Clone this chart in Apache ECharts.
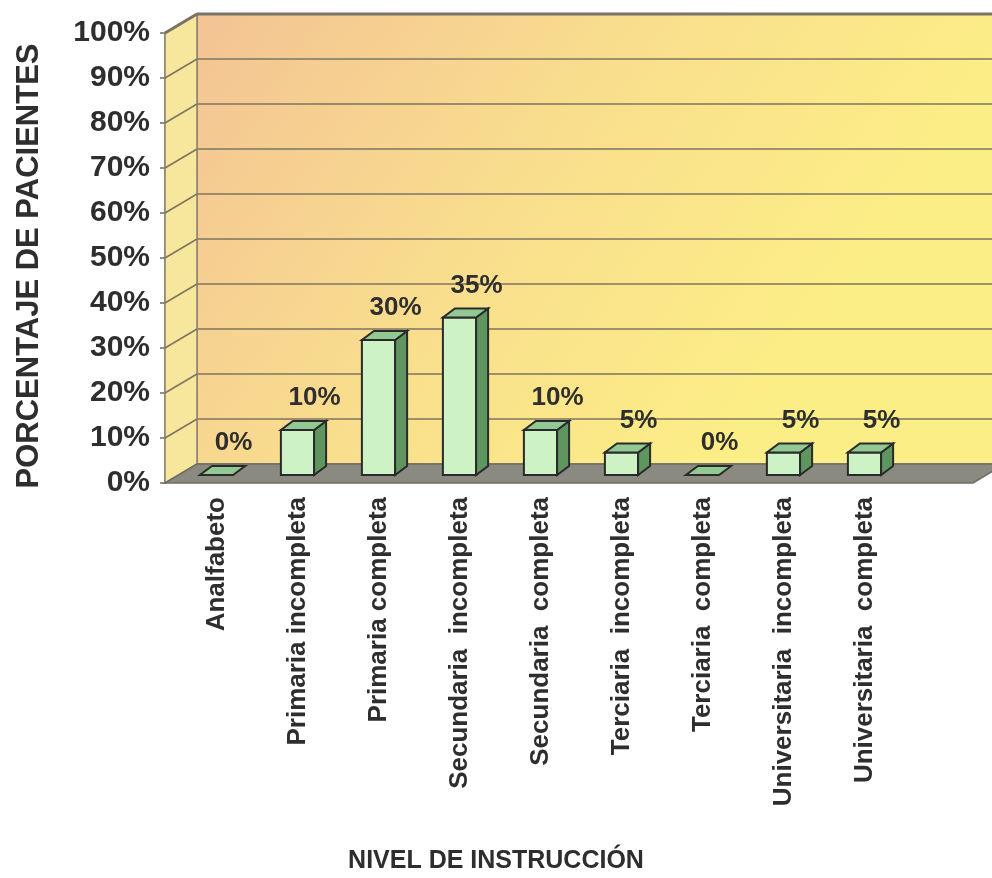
<!DOCTYPE html>
<html>
<head>
<meta charset="utf-8">
<script src="https://cdn.jsdelivr.net/npm/echarts@6/dist/echarts.min.js"></script>
<style>
html, body { margin: 0; padding: 0; background: #fff; }
#chart { width: 992px; height: 878px; }
</style>
</head>
<body>
<div id="chart"></div>
<script>
// datos
const categories = [
    'Analfabeto',
    'Primaria incompleta',
    'Primaria completa',
    'Secundaria  incompleta',
    'Secundaria  completa',
    'Terciaria  incompleta',
    'Terciaria  completa',
    'Universitaria  incompleta',
    'Universitaria  completa'
];
const percentages = [0, 10, 30, 35, 10, 5, 0, 5, 5];
const yTicks = [0, 10, 20, 30, 40, 50, 60, 70, 80, 90, 100];

const FONT = '"Liberation Sans", Arial, sans-serif';
const TEXT_COLOR = '#2e2e2e';
const WALL_DEPTH = [32, -19];   // desplazamiento pared frontal -> pared del fondo
const BAR_DEPTH = [12, -9];     // profundidad de cada barra
const EDGE = '#2a2a2a';

const chart = echarts.init(document.getElementById('chart'));

function renderSideWall(params, api) {
    const bottom = api.coord([0, 0]);
    const top = api.coord([0, 100]);
    const right = api.coord([1, 0]);
    const dx = WALL_DEPTH[0], dy = WALL_DEPTH[1];
    return {
        type: 'group',
        children: [
            {
                type: 'polygon',
                shape: { points: [top, [top[0] + dx, top[1] + dy], [bottom[0] + dx, bottom[1] + dy], bottom] },
                style: { fill: '#F7E79C', stroke: '#8a8270', lineWidth: 1.5 }
            },
            {
                // piso gris
                type: 'polygon',
                shape: { points: [bottom, right, [right[0] + dx, right[1] + dy], [bottom[0] + dx, bottom[1] + dy]] },
                style: { fill: '#8B8A80', stroke: '#6e6d64', lineWidth: 1.5 }
            },
            {
                // borde superior de la pared del fondo
                type: 'line',
                shape: { x1: top[0], y1: top[1], x2: top[0] + dx, y2: top[1] + dy },
                style: { stroke: '#7a7468', lineWidth: 3 }
            },
            {
                type: 'line',
                shape: { x1: top[0] + dx, y1: top[1] + dy, x2: right[0] + dx + 40, y2: top[1] + dy },
                style: { stroke: '#7a7468', lineWidth: 3 }
            }
        ]
    };
}

function renderSideLine(params, api) {
    const p = api.coord([0, api.value(1)]);
    return {
        type: 'line',
        shape: { x1: p[0], y1: p[1], x2: p[0] + WALL_DEPTH[0], y2: p[1] + WALL_DEPTH[1] },
        style: { stroke: '#7d7462', lineWidth: 1.5 }
    };
}

function renderBar(params, api) {
    const i = api.value(0);
    const v = api.value(1);
    const base = api.coord([i, 0]);
    const top = api.coord([i, v]);
    const w = api.size([1, 0])[0] * 0.41;
    const x0 = base[0] - w / 2, x1 = base[0] + w / 2;
    const dx = BAR_DEPTH[0], dy = BAR_DEPTH[1];
    const children = [];
    if (v > 0) {
        children.push({
            type: 'rect',
            shape: { x: x0, y: top[1], width: w, height: base[1] - top[1] },
            style: { fill: '#CDF2C6', stroke: EDGE, lineWidth: 2 }
        });
        children.push({
            type: 'polygon',
            shape: { points: [[x1, top[1]], [x1 + dx, top[1] + dy], [x1 + dx, base[1] + dy], [x1, base[1]]] },
            style: { fill: '#5F9660', stroke: EDGE, lineWidth: 2 }
        });
    }
    children.push({
        type: 'polygon',
        shape: { points: [[x0, top[1]], [x1, top[1]], [x1 + dx, top[1] + dy], [x0 + dx, top[1] + dy]] },
        style: { fill: '#92C892', stroke: EDGE, lineWidth: 2 }
    });
    children.push({
        type: 'text',
        style: {
            text: v + '%',
            x: base[0] + 17,
            y: top[1] - 19,
            align: 'center',
            verticalAlign: 'bottom',
            font: 'bold 26px ' + FONT,
            fill: TEXT_COLOR
        }
    });
    return { type: 'group', children: children };
}

const option = {
    backgroundColor: '#fff',
    animation: false,
    title: {
        text: 'NIVEL DE INSTRUCCIÓN',
        left: 'center',
        top: 844,
        textStyle: { fontFamily: FONT, fontWeight: 'bold', fontSize: 25, color: TEXT_COLOR }
    },
    grid: [
        {
            // pared del fondo
            left: 197, top: 14, width: 795, height: 450,
            show: true, borderWidth: 0,
            backgroundColor: new echarts.graphic.LinearGradient(0, 0, 0.7, 0.9, [
                { offset: 0, color: '#F3C394' },
                { offset: 0.55, color: '#F9DF8D' },
                { offset: 1, color: '#FCEE86' }
            ])
        },
        { left: 165, top: 33, width: 808, height: 450 },   // plano frontal
        { left: 176, top: 25, width: 729, height: 450 }    // plano de las barras
    ],
    xAxis: [
        { gridIndex: 0, type: 'value', min: 0, max: 1, show: false },
        { gridIndex: 1, type: 'value', min: 0, max: 1, show: false },
        {
            gridIndex: 2,
            type: 'category',
            data: categories,
            axisLine: { show: false },
            axisTick: { show: false },
            axisLabel: {
                rotate: 90,
                margin: 22,
                interval: 0,
                fontFamily: FONT,
                fontWeight: 'bold',
                fontSize: 26,
                color: TEXT_COLOR
            }
        }
    ],
    yAxis: [
        {
            gridIndex: 0, type: 'value', min: 0, max: 100, interval: 10,
            axisLabel: { show: false },
            axisTick: { show: false },
            axisLine: { show: true, lineStyle: { color: '#8a8270', width: 1.5 } },
            splitLine: { show: true, lineStyle: { color: '#7d7462', width: 1.5 } }
        },
        {
            gridIndex: 1, type: 'value', min: 0, max: 100, interval: 10,
            name: 'PORCENTAJE DE PACIENTES',
            nameLocation: 'middle',
            nameRotate: 90,
            nameGap: 120,
            nameTextStyle: {
                fontFamily: FONT, fontWeight: 'bold', fontSize: 31, color: TEXT_COLOR,
                padding: [0, 16, 0, 0]
            },
            axisLine: { show: true, lineStyle: { color: '#8a8270', width: 1.5 } },
            axisTick: { show: true, length: 5, lineStyle: { color: '#6e6d64', width: 1.5 } },
            axisLabel: {
                formatter: '{value}%',
                margin: 15,
                fontFamily: FONT,
                fontWeight: 'bold',
                fontSize: 30,
                color: TEXT_COLOR
            },
            splitLine: { show: false }
        },
        { gridIndex: 2, type: 'value', min: 0, max: 100, show: false }
    ],
    series: [
        {
            type: 'custom',
            xAxisIndex: 1, yAxisIndex: 1,
            renderItem: renderSideWall,
            data: [[0, 0]],
            z: 1,
            silent: true
        },
        {
            type: 'custom',
            xAxisIndex: 1, yAxisIndex: 1,
            renderItem: renderSideLine,
            data: yTicks.slice(1).map(function (v) { return [0, v]; }),
            z: 2,
            silent: true
        },
        {
            type: 'custom',
            xAxisIndex: 2, yAxisIndex: 2,
            renderItem: renderBar,
            encode: { x: 0, y: 1 },
            data: percentages.map(function (v, i) { return [i, v]; }),
            z: 3
        }
    ]
};

chart.setOption(option);
</script>
</body>
</html>
